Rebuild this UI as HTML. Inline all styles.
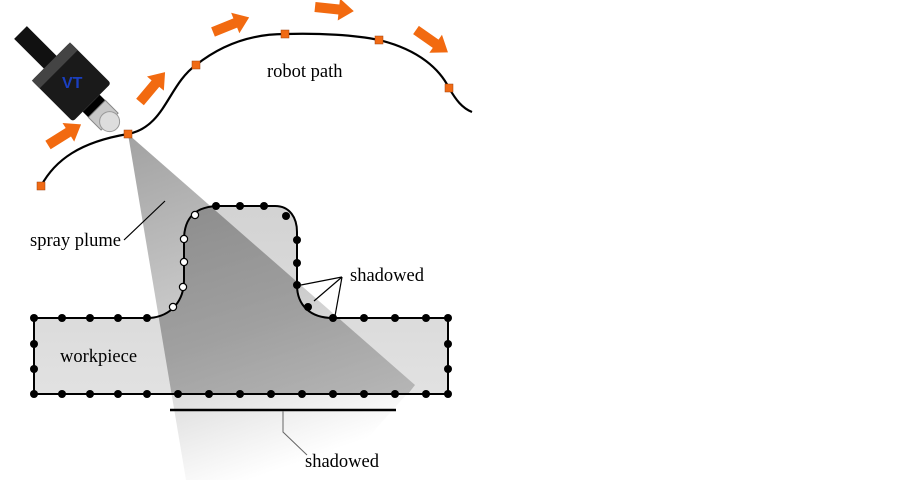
<!DOCTYPE html>
<html><head><meta charset="utf-8"><style>
html,body{margin:0;padding:0;background:#fff;}
svg{display:block;}
text{font-family:"Liberation Serif",serif;font-size:18.5px;fill:#000;}
</style></head><body>
<svg width="902" height="483" viewBox="0 0 902 483">
<defs>
<linearGradient id="pl" x1="128" y1="134" x2="250" y2="480" gradientUnits="userSpaceOnUse">
<stop offset="0" stop-color="#555"/><stop offset="0.6" stop-color="#aaa"/><stop offset="1" stop-color="#fff"/>
</linearGradient>
<linearGradient id="wp" x1="0" y1="200" x2="0" y2="400" gradientUnits="userSpaceOnUse">
<stop offset="0" stop-color="#d2d2d2"/><stop offset="1" stop-color="#e2e2e2"/>
</linearGradient>
<clipPath id="shape"><path d="M34,318 L150,318 C172,316 184,300 184,280 L184,240 C184,215 198,206 220,206 L275,206 C290,206 297,218 297,232 L297,285 C297,305 310,318 333,318 L448,318 L448,394 L34,394 Z"/></clipPath>
</defs>
<path d="M34,318 L150,318 C172,316 184,300 184,280 L184,240 C184,215 198,206 220,206 L275,206 C290,206 297,218 297,232 L297,285 C297,305 310,318 333,318 L448,318 L448,394 L34,394 Z" fill="url(#wp)"/>
<polygon points="128,134 415,385 330,480 186,480" fill="url(#pl)" opacity="0.55"/>
<g clip-path="url(#shape)"><polygon points="128,134 415,385 340,480 186,480" fill="#777" opacity="0.45"/></g>
<path d="M34,318 L150,318 C172,316 184,300 184,280 L184,240 C184,215 198,206 220,206 L275,206 C290,206 297,218 297,232 L297,285 C297,305 310,318 333,318 L448,318 L448,394 L34,394 Z" fill="none" stroke="#000" stroke-width="2"/>
<g fill="#000">
<circle cx="34" cy="318" r="4"/><circle cx="62" cy="318" r="4"/><circle cx="90" cy="318" r="4"/><circle cx="118" cy="318" r="4"/><circle cx="147" cy="318" r="4"/>
<circle cx="34" cy="344" r="4"/><circle cx="34" cy="369" r="4"/><circle cx="448" cy="344" r="4"/><circle cx="448" cy="369" r="4"/>
<circle cx="34" cy="394" r="4"/><circle cx="62" cy="394" r="4"/><circle cx="90" cy="394" r="4"/><circle cx="118" cy="394" r="4"/><circle cx="147" cy="394" r="4"/><circle cx="178" cy="394" r="4"/><circle cx="209" cy="394" r="4"/><circle cx="240" cy="394" r="4"/><circle cx="271" cy="394" r="4"/><circle cx="302" cy="394" r="4"/><circle cx="333" cy="394" r="4"/><circle cx="364" cy="394" r="4"/><circle cx="395" cy="394" r="4"/><circle cx="426" cy="394" r="4"/><circle cx="448" cy="394" r="4"/>
<circle cx="216" cy="206" r="4"/><circle cx="240" cy="206" r="4"/><circle cx="264" cy="206" r="4"/><circle cx="286" cy="216" r="4"/><circle cx="297" cy="240" r="4"/><circle cx="297" cy="263" r="4"/><circle cx="297" cy="285" r="4"/><circle cx="308" cy="307" r="4"/><circle cx="333" cy="318" r="4"/><circle cx="364" cy="318" r="4"/><circle cx="395" cy="318" r="4"/><circle cx="426" cy="318" r="4"/><circle cx="448" cy="318" r="4"/>
</g>
<g fill="#fff" stroke="#000" stroke-width="1.2">
<circle cx="173" cy="307" r="3.6"/><circle cx="183" cy="287" r="3.6"/><circle cx="184" cy="262" r="3.6"/><circle cx="184" cy="239" r="3.6"/><circle cx="195" cy="215" r="3.6"/>
</g>
<line x1="170" y1="410" x2="396" y2="410" stroke="#000" stroke-width="2.5"/>
<polyline points="283,411 283,432 307,455" fill="none" stroke="#666" stroke-width="1"/>
<text x="305" y="467">shadowed</text>
<g stroke="#000" stroke-width="1.2" fill="none">
<line x1="342" y1="277" x2="301" y2="285"/><line x1="342" y1="277" x2="314" y2="301"/><line x1="342" y1="277" x2="335" y2="316"/>
</g>
<text x="350" y="281">shadowed</text>
<line x1="124" y1="240" x2="165" y2="201" stroke="#000" stroke-width="1.2"/>
<text x="30" y="246">spray plume</text>
<text x="60" y="362">workpiece</text>
<path d="M41,186 C55,160 80,142 128,134 C165,127 168,85 196,65 C225,42 255,34 285,34 C320,33 355,35 379,40 C420,50 440,70 449,88 C456,100 462,108 472,112" fill="none" stroke="#000" stroke-width="2.2"/>
<g fill="#f06a14" stroke="#a0400a" stroke-width="0.5">
<rect x="37" y="182" width="8" height="8"/><rect x="124" y="130" width="8" height="8"/><rect x="192" y="61" width="8" height="8"/><rect x="281" y="30" width="8" height="8"/><rect x="375" y="36" width="8" height="8"/><rect x="445" y="84" width="8" height="8"/>
</g>
<text x="267" y="77">robot path</text>
<g fill="#f26a10">
<polygon points="0,-5 24,-5 24,-11 39,0 24,11 24,5 0,5" transform="translate(48,145) rotate(-32)"/>
<polygon points="0,-5 24,-5 24,-11 39,0 24,11 24,5 0,5" transform="translate(140,102) rotate(-50)"/>
<polygon points="0,-5 24,-5 24,-11 39,0 24,11 24,5 0,5" transform="translate(213,32) rotate(-22)"/>
<polygon points="0,-5 24,-5 24,-11 39,0 24,11 24,5 0,5" transform="translate(315,7) rotate(6)"/>
<polygon points="0,-5 24,-5 24,-11 39,0 24,11 24,5 0,5" transform="translate(416,30) rotate(35)"/>
</g>
<g transform="translate(70,82) rotate(45)">
<rect x="-70" y="-9" width="45" height="18" fill="#111"/>
<rect x="-28" y="-28" width="58" height="54" fill="#1a1a1a" rx="3"/>
<rect x="-28" y="-28" width="11" height="54" fill="#444"/>
<text x="-8" y="6" style="font-family:'Liberation Sans',sans-serif;font-size:16px;font-weight:bold;fill:#1a3fc0" transform="rotate(-45 0 0)">VT</text>
<rect x="30" y="-12" width="8" height="24" fill="#000"/>
<rect x="38" y="-12" width="18" height="24" fill="#c8c8c8" stroke="#888"/>
<circle cx="56" cy="0" r="10" fill="#ddd" stroke="#999"/>
</g>
</svg>
</body></html>
